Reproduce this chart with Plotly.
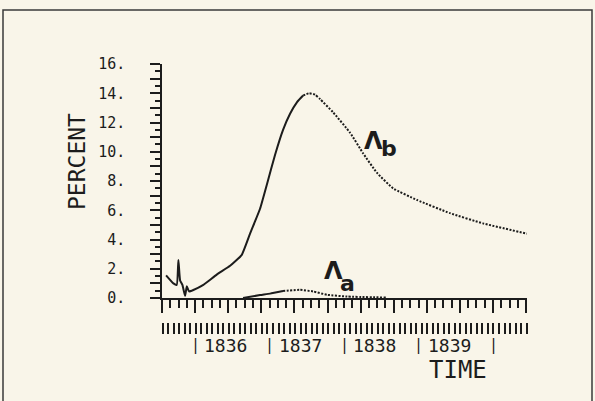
import plotly.graph_objects as go

# ---- data (time in decimal years, values in percent) ----
lam_b_time = [1835.611, 1835.709, 1835.754, 1835.776, 1835.799, 1835.83, 1835.866, 1835.889,
              1835.919, 1835.977, 1836.111, 1836.291, 1836.470, 1836.627, 1836.738, 1836.872,
              1836.966, 1837.074, 1837.181, 1837.275, 1837.369, 1837.450, 1837.530, 1837.611,
              1837.678, 1837.852, 1838.081, 1838.255, 1838.443, 1838.658, 1838.980, 1839.423,
              1839.866, 1840.456]
lam_b_val = [1.55, 1.0, 0.9, 2.6, 1.2, 0.9, 0.15, 0.8,
             0.45, 0.55, 0.9, 1.6, 2.2, 2.95, 4.4, 6.1,
             7.8, 9.8, 11.5, 12.6, 13.4, 13.85, 14.0, 13.9,
             13.6, 12.7, 11.3, 9.9, 8.55, 7.5, 6.7, 5.8,
             5.1, 4.4]
lam_a_time = [1836.644, 1836.872, 1837.007, 1837.181, 1837.409, 1837.584, 1837.772, 1838.040, 1838.577]
lam_a_val = [0.0, 0.2, 0.3, 0.48, 0.56, 0.45, 0.22, 0.1, 0.03]

year_labels = ["1836", "1837", "1838", "1839"]
year_starts = [1836, 1837, 1838, 1839, 1840]
y_tick_vals = list(range(0, 17))
y_tick_text = [f"{v}." if v % 2 == 0 else "" for v in y_tick_vals]

X_RANGE = [1835.556, 1840.456]
SOLID_END_B = 1837.45
SOLID_END_A = 1837.25

INK = "#1c1c1c"
BG = "#f9f5e9"
MONO = "DejaVu Sans Mono"

fig = go.Figure()

def split(times, vals, cut):
    s_t = [t for t in times if t <= cut]
    s_v = vals[:len(s_t)]
    d_t = times[len(s_t) - 1:]
    d_v = vals[len(s_t) - 1:]
    return s_t, s_v, d_t, d_v

for times, vals, cut in [(lam_b_time, lam_b_val, SOLID_END_B), (lam_a_time, lam_a_val, SOLID_END_A)]:
    s_t, s_v, d_t, d_v = split(times, vals, cut)
    fig.add_trace(go.Scatter(x=s_t, y=s_v, mode="lines", line=dict(color=INK, width=2, shape="spline", smoothing=0.4),
                             showlegend=False, hoverinfo="skip"))
    fig.add_trace(go.Scatter(x=d_t, y=d_v, mode="lines", line=dict(color=INK, width=2, dash="2px,1.5px", shape="spline", smoothing=0.4),
                             showlegend=False, hoverinfo="skip"))

# invisible trace on the secondary x axis so it renders
fig.add_trace(go.Scatter(x=X_RANGE, y=[None, None], xaxis="x2", mode="lines", showlegend=False, hoverinfo="skip"))

H = 276.0
fig.update_layout(
    width=595, height=401,
    margin=dict(l=162, r=68, t=64, b=61),
    paper_bgcolor=BG, plot_bgcolor=BG,
    font=dict(family=MONO, color=INK),
    xaxis=dict(range=X_RANGE, showgrid=False, zeroline=False, showline=True, linecolor=INK, linewidth=1.5,
               anchor="y", ticks="outside", tick0=1836, dtick=4/9, ticklen=13, tickwidth=1.5, tickcolor=INK,
               showticklabels=False,
               minor=dict(ticks="outside", dtick=1/9, tick0=1836, ticklen=8, tickwidth=1.5, tickcolor=INK)),
    xaxis2=dict(range=X_RANGE, overlaying="x", anchor="free", position=(340 - 322) / H, side="bottom",
                showgrid=False, zeroline=False, showline=False, ticks="outside", tick0=X_RANGE[0] + 0.01,
                dtick=0.074, ticklen=11, tickwidth=1.6, tickcolor=INK, showticklabels=False),
    yaxis=dict(range=[0, 16], domain=[(340 - 298) / H, 1], showgrid=False, zeroline=False, showline=True,
               linecolor=INK, linewidth=1.5, ticks="outside", tickvals=y_tick_vals, ticktext=y_tick_text,
               ticklen=10, tickwidth=1.5, tickcolor=INK, ticklabelstandoff=22,
               tickfont=dict(family=MONO, size=15, color=INK),
               minor=dict(ticks="outside", dtick=0.5, ticklen=5, tickwidth=1.5, tickcolor=INK)),
)

# x axis line stub extending left of the y axis
fig.add_shape(type="line", xref="paper", yref="y", x0=-12 / 365, x1=0, y0=0, y1=0,
              line=dict(color=INK, width=1.5))
# frame around the figure
fig.add_shape(type="rect", xref="paper", yref="paper", x0=(3 - 162) / 365, x1=(592 - 162) / 365,
              y0=-0.3, y1=(340 - 10) / H, line=dict(color="#3a3a3a", width=1.5))

# year separators and labels
YL = (340 - 345) / H
for ys in year_starts:
    fig.add_annotation(x=ys, y=YL, xref="x", yref="paper", text="|", xanchor="center", yanchor="middle",
                       showarrow=False, font=dict(family=MONO, size=15, color=INK))
for ys, lab in zip(year_starts, year_labels):
    fig.add_annotation(x=ys, y=YL, xref="x", yref="paper", text=lab, xanchor="left", yanchor="middle",
                       xshift=7, showarrow=False, font=dict(family=MONO, size=18, color=INK))

# axis titles
fig.add_annotation(x=(458 - 162) / 365, y=(340 - 370) / H, xref="paper", yref="paper", text="TIME",
                   showarrow=False, xanchor="center", yanchor="middle",
                   font=dict(family=MONO, size=24, color=INK))
fig.add_annotation(x=(77 - 162) / 365, y=(340 - 162) / H, xref="paper", yref="paper", text="PERCENT",
                   showarrow=False, textangle=-90, xanchor="center", yanchor="middle",
                   font=dict(family=MONO, size=23, color=INK))

# curve labels
LBL = "DejaVu Sans"
fig.add_annotation(x=1838.389, y=10.75, text="<b>Λ</b>", showarrow=False, font=dict(family=LBL, size=24, color=INK))
fig.add_annotation(x=1838.604, y=10.25, text="<b>b</b>", showarrow=False, font=dict(family=LBL, size=22, color=INK))
fig.add_annotation(x=1837.852, y=1.85, text="<b>Λ</b>", showarrow=False, font=dict(family=LBL, size=24, color=INK))
fig.add_annotation(x=1838.04, y=0.96, text="<b>a</b>", showarrow=False, font=dict(family=LBL, size=22, color=INK))

fig.write_html("out.html", config={"displayModeBar": False},
               post_script="document.body.style.margin='0';document.body.style.overflow='hidden';")
